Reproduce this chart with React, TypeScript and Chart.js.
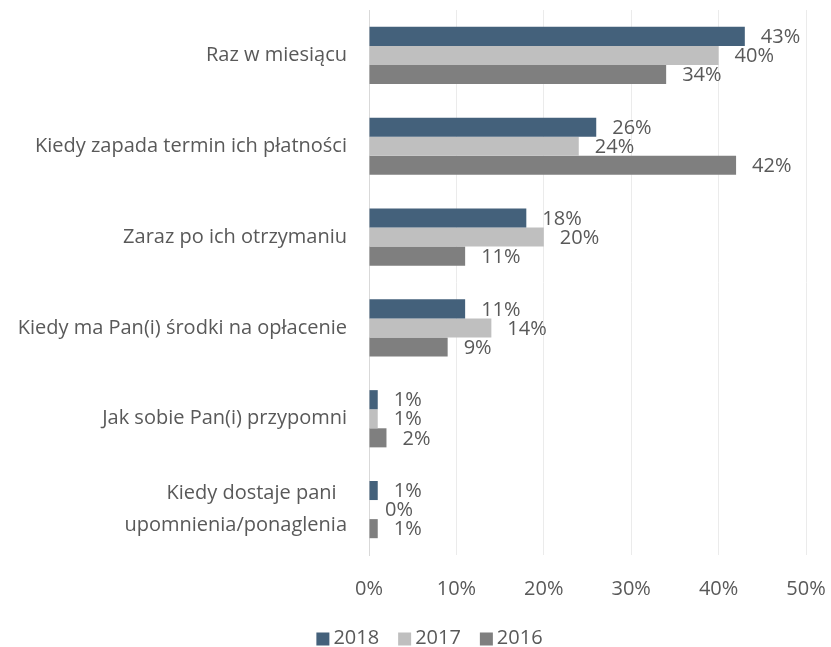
import React, { useEffect, useRef } from "react";
import { Chart, registerables } from "chart.js";

Chart.register(...registerables);

const categories: (string | string[])[] = [
  "Raz w miesiącu",
  "Kiedy zapada termin ich płatności",
  "Zaraz po ich otrzymaniu",
  "Kiedy ma Pan(i) środki na opłacenie",
  "Jak sobie Pan(i) przypomni",
  ["Kiedy dostaje pani  ", "upomnienia/ponaglenia"],
];
const series2018 = [43, 26, 18, 11, 1, 1];
const series2017 = [40, 24, 20, 14, 1, 0];
const series2016 = [34, 42, 11, 9, 2, 1];
const seriesLabels = ["2018", "2017", "2016"];
const seriesColors = ["#44617b", "#bfbfbf", "#7f7f7f"];
const xTicks = [0, 10, 20, 30, 40, 50];

const FONT = "'Open Sans', 'Noto Sans', sans-serif";
const TEXT = "#595959";

const dataLabels = {
  id: "dataLabels",
  afterDatasetsDraw(chart: any) {
    const ctx = chart.ctx;
    ctx.save();
    ctx.font = `20px ${FONT}`;
    ctx.fillStyle = TEXT;
    ctx.textAlign = "left";
    ctx.textBaseline = "middle";
    chart.data.datasets.forEach((ds: any, i: number) => {
      const meta = chart.getDatasetMeta(i);
      meta.data.forEach((bar: any, j: number) => {
        ctx.fillText(ds.data[j] + "%", bar.x + 16, bar.y + 1);
      });
    });
    ctx.restore();
  },
};

const customLegend = {
  id: "customLegend",
  afterDraw(chart: any) {
    const ctx = chart.ctx;
    ctx.save();
    ctx.font = `20px ${FONT}`;
    ctx.textBaseline = "middle";
    ctx.textAlign = "left";
    const box = 13;
    const gapText = 4;
    const gapItem = 19;
    const widths = chart.data.datasets.map((ds: any) => ctx.measureText(ds.label).width);
    const total =
      widths.reduce((a: number, w: number) => a + box + gapText + w, 0) + gapItem * (widths.length - 1);
    let x = chart.width / 2 + 14 - total / 2;
    const cy = chart.height - 9;
    chart.data.datasets.forEach((ds: any, i: number) => {
      ctx.fillStyle = ds.backgroundColor;
      ctx.fillRect(x, cy - box / 2 + 1, box, box);
      x += box + gapText;
      ctx.fillStyle = TEXT;
      ctx.fillText(ds.label, x, cy);
      x += widths[i] + gapItem;
    });
    ctx.restore();
  },
};

export default function App() {
  const ref = useRef<HTMLCanvasElement>(null);
  useEffect(() => {
    if (!ref.current) return;
    const chart = new Chart(ref.current, {
      type: "bar",
      data: {
        labels: categories,
        datasets: [
          { label: seriesLabels[0], data: series2018, backgroundColor: seriesColors[0] },
          { label: seriesLabels[1], data: series2017, backgroundColor: seriesColors[1] },
          { label: seriesLabels[2], data: series2016, backgroundColor: seriesColors[2] },
        ],
      },
      options: {
        indexAxis: "y",
        animation: false,
        responsive: true,
        maintainAspectRatio: false,
        layout: { padding: { top: 10, right: 25, bottom: 47, left: 0 } },
        datasets: { bar: { barPercentage: 1, categoryPercentage: 0.63 } },
        scales: {
          x: {
            min: 0,
            max: 50,
            afterBuildTicks: (scale: any) => {
              scale.ticks = xTicks.map((v) => ({ value: v }));
            },
            afterFit: (scale: any) => {
              scale.height = 45;
              scale.paddingLeft = 0;
              scale.paddingRight = 0;
            },
            grid: { color: "#ebebeb", drawTicks: false, lineWidth: 1 },
            border: { display: false },
            ticks: {
              color: TEXT,
              font: { family: FONT, size: 20 },
              padding: 22,
              maxRotation: 0,
              callback: (v: any) => v + "%",
            },
          },
          y: {
            grid: { display: false, drawTicks: false },
            border: { display: true, color: "#d9d9d9", width: 1 },
            afterFit: (scale: any) => {
              scale.width = 369;
              scale.paddingTop = 0;
              scale.paddingBottom = 0;
            },
            ticks: {
              color: TEXT,
              font: { family: FONT, size: 20, lineHeight: 1.6 },
              padding: 22,
            },
          },
        },
        plugins: {
          legend: { display: false },
          tooltip: { enabled: false },
        },
      },
      plugins: [dataLabels, customLegend],
    });
    return () => chart.destroy();
  }, []);
  return (
    <div style={{ position: "fixed", left: 0, top: 0, width: 831, height: 647, background: "#fff" }}>
      <canvas ref={ref} />
    </div>
  );
}
